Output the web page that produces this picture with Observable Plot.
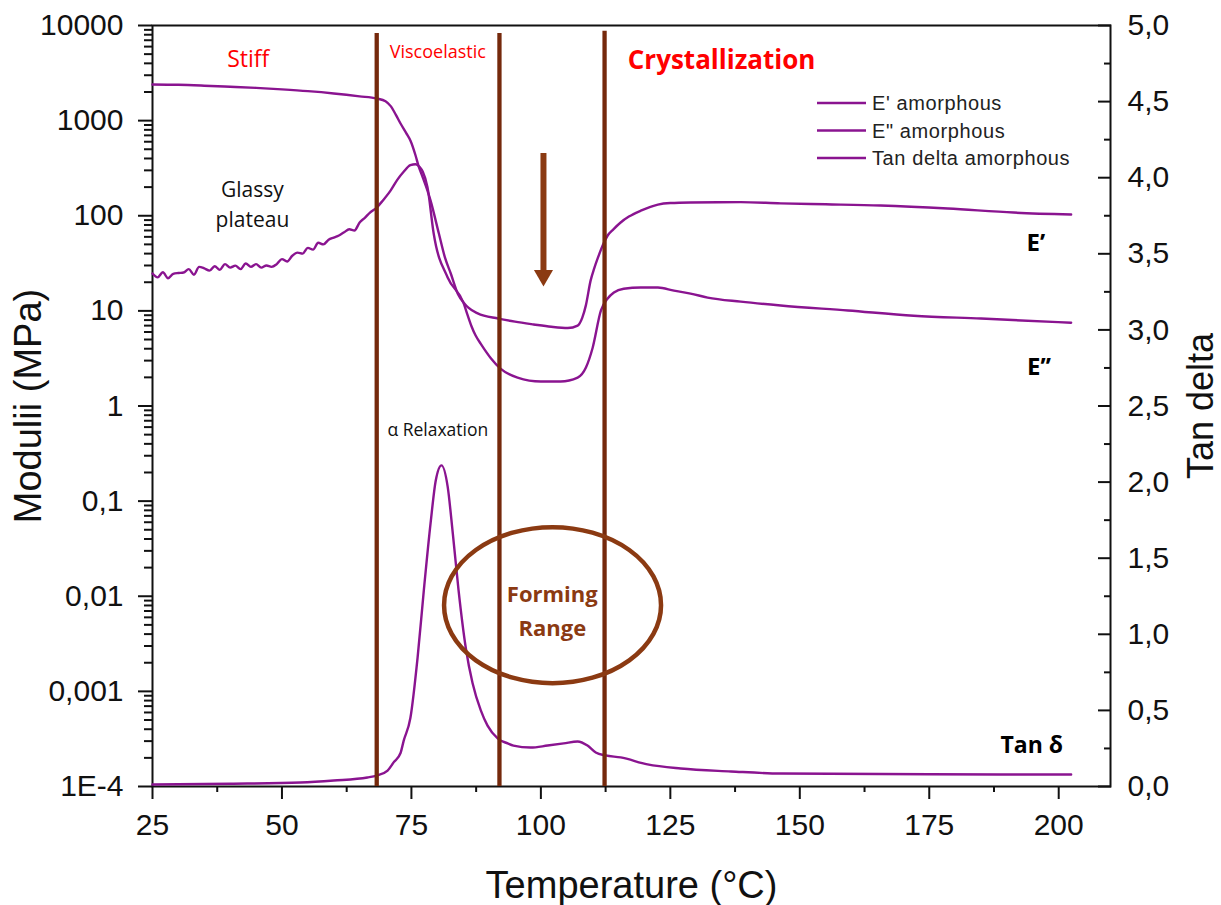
<!DOCTYPE html>
<html>
<head>
<meta charset="utf-8">
<script src="https://cdn.jsdelivr.net/npm/d3@7"></script>
<script src="https://cdn.jsdelivr.net/npm/@observablehq/plot@0.6"></script>
<style>
  html, body { margin: 0; padding: 0; background: #fff; }
  #chart { width: 1221px; height: 905px; }
</style>
</head>
<body>
<div id="chart"></div>
<script>
// ---------- data ----------
// E' amorphous (storage modulus, MPa) vs temperature (°C)
const ePrimeT = [25, 30, 35, 40, 45, 50, 55, 60, 65, 68.3, 70.0, 71.0, 72.0, 72.9, 74.0, 74.8, 75.8, 76.4, 77.2, 78.1, 78.7, 80.3, 81.5, 82.6, 84.0, 85.1, 86.0, 87.8, 91.8, 95.0, 98.6, 102.0, 105.2, 107.1, 108.0, 108.7, 109.6, 110.3, 111.0, 112.1, 112.9, 114.0, 115.4, 117.0, 119.3, 122.6, 125.0, 128.9, 138.6, 146.3, 155.0, 165.6, 178.6, 191.3, 202.4];
const ePrimeV = [2400, 2380, 2330, 2270, 2210, 2130, 2040, 1930, 1800, 1707, 1600, 1420, 1150, 933, 740, 618, 430, 330, 252, 184, 144, 65, 36, 24.7, 15, 12.2, 10.8, 9.4, 8.3, 7.7, 7.2, 6.8, 6.6, 7.0, 8.5, 11.5, 20.8, 28, 36, 51, 62, 72, 85, 98, 113, 131, 136, 138, 139, 135, 132, 128, 119, 108, 103];

// E'' amorphous (loss modulus, MPa)
const eDoubleT = [25, 26, 27, 28, 29, 30, 31, 32, 33, 34, 35, 36, 37, 38, 39, 40, 41, 42, 43, 44, 45, 46, 47, 48, 49, 50, 51, 52, 53, 54, 55, 56, 57, 58, 59, 60, 61, 62, 63, 64, 65, 66, 67, 68.3, 69.5, 71.0, 72.3, 73.5, 74.8, 75.8, 76.6, 77.2, 78.1, 79.3, 82.0, 85.1, 85.8, 86.6, 87.4, 88.4, 90.3, 92.2, 95.5, 100.0, 103.8, 107.1, 108.7, 110.0, 111.6, 112.9, 114.1, 116.0, 119.3, 122.6, 125.7, 128.9, 132.2, 138.6, 146.3, 159.3, 172.0, 185.0, 202.4];
const eDoubleV = [24.7, 22.5, 25.5, 22.0, 24.5, 25.0, 25.3, 27.5, 24.0, 29.0, 28.0, 26.5, 29.5, 27.0, 31.0, 28.5, 29.9, 27.5, 31.5, 29.0, 31.0, 28.5, 30.0, 29.0, 31.0, 35.0, 33.0, 38.0, 41.0, 40.0, 46.0, 44.0, 52.0, 50.0, 56.0, 59.0, 62.0, 67.0, 72.0, 70.0, 85.0, 95.0, 108.0, 122, 145, 185, 240, 290, 340, 348, 325, 290, 200, 65, 22.4, 12.0, 9.2, 6.9, 5.5, 4.5, 3.2, 2.47, 1.99, 1.81, 1.81, 1.99, 2.54, 4.1, 10.1, 13.5, 15.6, 17.1, 17.6, 17.6, 16.3, 15.2, 13.8, 12.5, 11.4, 10.1, 8.9, 8.3, 7.5];

// Tan delta amorphous (right axis)
const tanT = [25, 40, 53.6, 60, 66.5, 68.3, 70.4, 71.6, 72.9, 73.5, 74.8, 76.2, 77.4, 78.7, 79.7, 80.8, 82.0, 83.0, 84.1, 85.5, 86.8, 88.4, 89.7, 91.7, 93.6, 94.7, 98.0, 101.3, 104.4, 107.1, 109.0, 110.6, 112.5, 115.4, 120.6, 127.0, 136.7, 146.3, 175, 202.4];
const tanV = [0.013, 0.018, 0.026, 0.039, 0.059, 0.072, 0.105, 0.16, 0.22, 0.30, 0.45, 0.85, 1.29, 1.73, 2.01, 2.11, 1.97, 1.66, 1.29, 0.91, 0.68, 0.50, 0.40, 0.315, 0.283, 0.269, 0.256, 0.269, 0.283, 0.296, 0.269, 0.223, 0.204, 0.191, 0.145, 0.118, 0.099, 0.085, 0.080, 0.079];

// Axis ticks
const xTicks = [25, 50, 75, 100, 125, 150, 175, 200];
const xMinorTicks = [37.5, 62.5, 87.5, 112.5, 137.5, 162.5, 187.5];
const yTicks = [1e-4, 1e-3, 1e-2, 1e-1, 1, 10, 100, 1000, 10000];
const yTickLabels = ["1E-4", "0,001", "0,01", "0,1", "1", "10", "100", "1000", "10000"];
const tanTicks = [0, 0.5, 1, 1.5, 2, 2.5, 3, 3.5, 4, 4.5, 5];
const tanMinorTicks = [0.25, 0.75, 1.25, 1.75, 2.25, 2.75, 3.25, 3.75, 4.25, 4.75];

// Region boundaries (°C)
const boundaries = [68.3, 92.0, 112.3];
const boundaryTops = [8240, 8240, 8710];

const seriesNames = ["E' amorphous", "E\" amorphous", "Tan delta amorphous"];

// ---------- helpers ----------
// tan delta (0..5) shares the plot with the log moduli axis (1E-4..1E4): 8 decades over 5 units
const tanToLog = t => Math.pow(10, -4 + 1.6 * t);
const yMinor = [];
for (let k = -4; k < 4; k++) for (let m = 2; m <= 9; m++) yMinor.push(m * Math.pow(10, k));

const ePrime = ePrimeT.map((T, i) => ({T, v: ePrimeV[i]}));
const eDouble = eDoubleT.map((T, i) => ({T, v: eDoubleV[i]}));
const tanD = tanT.map((T, i) => ({T, v: tanToLog(tanV[i])}));
const rules = boundaries.map((T, i) => ({T, top: boundaryTops[i]}));

const purple = "#8A1490";
const ruleBrown = "#75290C";
const brown = "#8B3A12";
const sans = "'Liberation Sans', Arial, sans-serif";
const cal = "'Open Sans', 'Noto Sans', sans-serif";

const chart = Plot.plot({
  width: 1221,
  height: 905,
  marginTop: 25,
  marginBottom: 119,
  marginLeft: 152,
  marginRight: 111,
  style: {fontFamily: sans, background: "white", color: "#111"},
  x: {domain: [25, 210]},
  y: {type: "log", domain: [1e-4, 1e4]},
  marks: [
    // axes
    Plot.axisX({ticks: xTicks, tickSize: 13, tickPadding: 14, fontSize: 30, strokeWidth: 2, label: null, tickFormat: d => String(d)}),
    Plot.axisX({ticks: xMinorTicks, tickSize: 6, strokeWidth: 2, label: null, tickFormat: () => ""}),
    Plot.axisY({ticks: yTicks, tickSize: 14, tickPadding: 15, fontSize: 30, strokeWidth: 2, label: null, tickFormat: d => yTickLabels[yTicks.indexOf(d)]}),
    Plot.axisY({ticks: yMinor, tickSize: 8, strokeWidth: 2, label: null, tickFormat: () => ""}),
    Plot.axisY({anchor: "right", ticks: tanTicks.map(tanToLog), tickSize: -13, strokeWidth: 2, label: null, tickFormat: () => ""}),
    Plot.axisY({anchor: "right", ticks: tanMinorTicks.map(tanToLog), tickSize: -7, strokeWidth: 2, label: null, tickFormat: () => ""}),
    Plot.text(tanTicks, {y: d => tanToLog(d), text: d => d.toFixed(1).replace(".", ","), frameAnchor: "right", textAnchor: "start", dx: 17, fontSize: 30, fill: "#111"}),
    Plot.frame({stroke: "#111", strokeWidth: 2}),

    // axis titles
    Plot.text(["Temperature (°C)"], {frameAnchor: "bottom", lineAnchor: "bottom", textAnchor: "middle", dy: 111, fontSize: 38, fill: "#111"}),
    Plot.text(["Modulii (MPa)"], {frameAnchor: "left", textAnchor: "middle", dx: -124, rotate: -90, fontSize: 38, fill: "#111"}),
    Plot.text(["Tan delta"], {frameAnchor: "right", textAnchor: "middle", dx: 91, rotate: -90, fontSize: 36, fill: "#111"}),

    // curves
    Plot.line(ePrime, {x: "T", y: "v", stroke: purple, strokeWidth: 2.4, curve: "monotone-x"}),
    Plot.line(eDouble, {x: "T", y: "v", stroke: purple, strokeWidth: 2.4, curve: "monotone-x"}),
    Plot.line(tanD, {x: "T", y: "v", stroke: purple, strokeWidth: 2.4, curve: "monotone-x"}),

    // region boundaries
    Plot.ruleX(rules, {x: "T", y1: 1e-4, y2: "top", stroke: ruleBrown, strokeWidth: 4.3}),

    // arrow
    Plot.ruleX([100.5], {y1: 451, y2: 26, stroke: brown, strokeWidth: 6}),
    Plot.dot([100.5], {x: d => d, y: 23.5, symbol: "triangle", r: 7.1, rotate: 180, fill: brown, stroke: "none"}),

    // annotations
    Plot.text(["Stiff"], {x: 43.5, y: 4390, fill: "#FF0000", fontSize: 23, fontFamily: cal}),
    Plot.text(["Viscoelastic"], {x: 80.1, y: 5200, fill: "#FF0000", fontSize: 18, fontFamily: cal}),
    Plot.text(["Crystallization"], {x: 134.9, y: 4285, fill: "#FF0000", fontSize: 26, fontWeight: "bold", fontFamily: cal}),
    Plot.text(["Glassy\nplateau"], {x: 44.3, y: 138, fill: "#111", fontSize: 21, lineHeight: 1.4, fontFamily: cal}),
    Plot.text(["α Relaxation"], {x: 80.1, y: 0.551, fill: "#111", fontSize: 17.5, fontFamily: cal}),
    Plot.text(["Forming\nRange"], {x: 102.2, y: 0.0075, fill: brown, fontSize: 22, lineHeight: 1.55, fontWeight: "bold", fontFamily: cal}),
    Plot.text(["E’"], {x: 195.6, y: 51, fill: "#000", fontSize: 24, fontWeight: "bold", fontFamily: cal}),
    Plot.text(["E’’"], {x: 196.2, y: 2.54, fill: "#000", fontSize: 24, fontWeight: "bold", fontFamily: cal}),
    Plot.text(["Tan δ"], {x: 194.8, y: 2.69e-4, fill: "#000", fontSize: 23, fontWeight: "bold", fontFamily: cal})
  ]
});

document.getElementById("chart").appendChild(chart);

// Ellipse "Forming Range" using the plot's own scales
const sx = chart.scale("x"), sy = chart.scale("y");
const svg = d3.select(chart);
const cx = (sx.apply(81.4) + sx.apply(123.3)) / 2;
const rx = (sx.apply(123.3) - sx.apply(81.4)) / 2;
const yTop = sy.apply(Math.pow(10, -1.279)), yBot = sy.apply(Math.pow(10, -2.919));
svg.append("ellipse")
  .attr("cx", cx).attr("cy", (yTop + yBot) / 2)
  .attr("rx", rx).attr("ry", (yBot - yTop) / 2)
  .attr("fill", "none").attr("stroke", brown).attr("stroke-width", 4.5);

// Legend (top right inside the frame)
const lg = svg.append("g").attr("font-family", sans).attr("font-size", 20)
  .attr("letter-spacing", "0.6px").attr("fill", "#222").attr("text-anchor", "start");
seriesNames.forEach((name, i) => {
  const y = 103 + i * 27.5;
  lg.append("line").attr("x1", 817).attr("x2", 866).attr("y1", y).attr("y2", y)
    .attr("stroke", purple).attr("stroke-width", 2.4);
  lg.append("text").attr("x", 872).attr("y", y).attr("dy", "0.35em").text(name);
});
</script>
</body>
</html>
